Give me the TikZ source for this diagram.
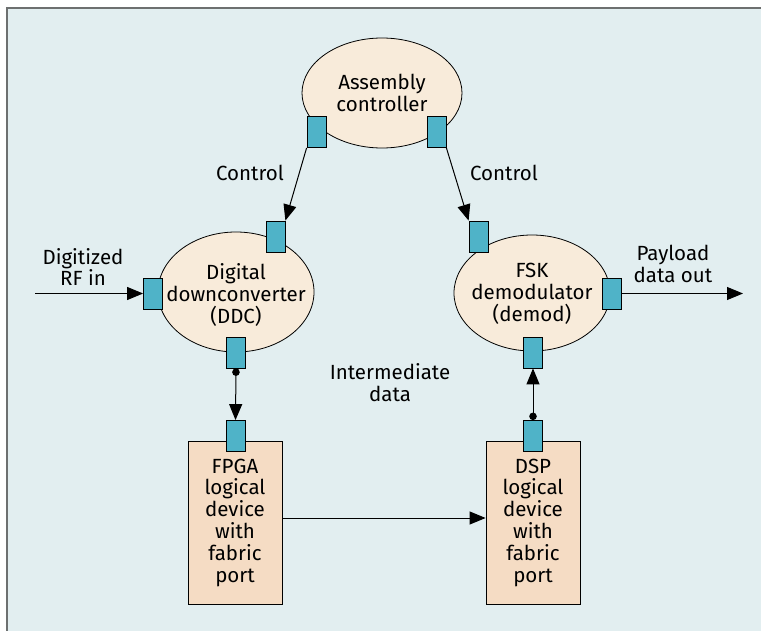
\documentclass[tikz,border=0pt]{standalone}
\usepackage{fontspec}
\setmainfont{Fira Sans}
\usetikzlibrary{arrows.meta,shapes.geometric}
\definecolor{bgc}{HTML}{E2EEF0}
\definecolor{framec}{HTML}{6D7070}
\definecolor{ellc}{HTML}{F8EBDA}
\definecolor{boxc}{HTML}{F5DCC4}
\definecolor{portc}{HTML}{4FB3C8}
\tikzset{
  lbl/.style={font=\fontsize{20.5}{21.8}\selectfont, align=center, inner sep=0pt},
  ell/.style={ellipse, draw=black, line width=0.8pt, fill=ellc, inner sep=0pt},
  devbox/.style={rectangle, draw=black, line width=0.8pt, fill=boxc, minimum width=94pt, minimum height=163pt, lbl},
  port/.style={rectangle, draw=black, line width=0.8pt, fill=portc, minimum width=19pt, minimum height=31pt, inner sep=0pt},
  conn/.style={line width=1pt, -{Triangle[length=16pt,width=13pt]}},
  dotconn/.style={line width=1pt, {Circle[length=7.5pt]}-{Triangle[length=16pt,width=13pt]}},
}
\begin{document}
\begin{tikzpicture}[x=1pt,y=-1pt]
\useasboundingbox (0,0) rectangle (761,631);
\fill[bgc] (7,8) rectangle (761,631);
\draw[framec, line width=2pt] (7,631) -- (7,8) -- (761,8);

% ellipses
\node[ell, minimum width=160pt, minimum height=110pt] (ac) at (382,93) {};
\node[ell, minimum width=156pt, minimum height=120pt] (ddc) at (236,292) {};
\node[ell, minimum width=156pt, minimum height=116pt] (fsk) at (532,293) {};
\node[lbl] (actxt) at (ac.center) {Assembly\\controller};
\node[lbl] (ddctxt) at ([yshift=-3pt]ddc.center) {Digital\\downconverter\\(DDC)};
\node[lbl] (fsktxt) at ([yshift=-1pt]fsk.center) {FSK\\demodulator\\(demod)};

% devices
\node[devbox] (fpga) at (235,522.5) {FPGA\\logical\\device\\with\\fabric\\port};
\node[devbox] (dsp) at (533,522.5) {DSP\\logical\\device\\with\\fabric\\port};

% ports
\node[port] (acL) at (316.5,132) {};
\node[port] (acR) at (436.5,132) {};
\node[port] (ddcT) at (275.5,236.5) {};
\node[port] (ddcL) at (153,293.5) {};
\node[port] (ddcB) at (236,352.5) {};
\node[port] (fskT) at (478.5,236.5) {};
\node[port] (fskR) at (611.5,293.5) {};
\node[port] (fskB) at (533,352.5) {};
\node[port] (fpgaT) at (235.5,436) {};
\node[port] (dspT) at (533,436) {};

% free ends
\coordinate (rfin) at (35,293.5);
\coordinate (pout) at (743,293.5);

% connectors
\draw[conn] (acL.south west) -- (ddcT.north east);
\draw[conn] (acR.south east) -- (fskT.north west);
\draw[conn] (rfin) -- (ddcL.west);
\draw[conn] (fskR.east) -- (pout);
\draw[dotconn] (ddcB.south) -- (fpgaT.north);
\draw[dotconn] (dspT.north) -- (fskB.south);
\draw[conn] ([yshift=4.5pt]fpga.east) -- ([yshift=4.5pt]dsp.west);

% labels
\node[lbl] (ctl1) at (250,173) {Control};
\node[lbl] (ctl2) at (504,173) {Control};
\node[lbl] (rflbl) at (83,267) {Digitized\\RF in};
\node[lbl] (paylbl) at (673,264) {Payload\\data out};
\node[lbl] (intlbl) at (390,383) {Intermediate\\data};
\end{tikzpicture}
\end{document}
